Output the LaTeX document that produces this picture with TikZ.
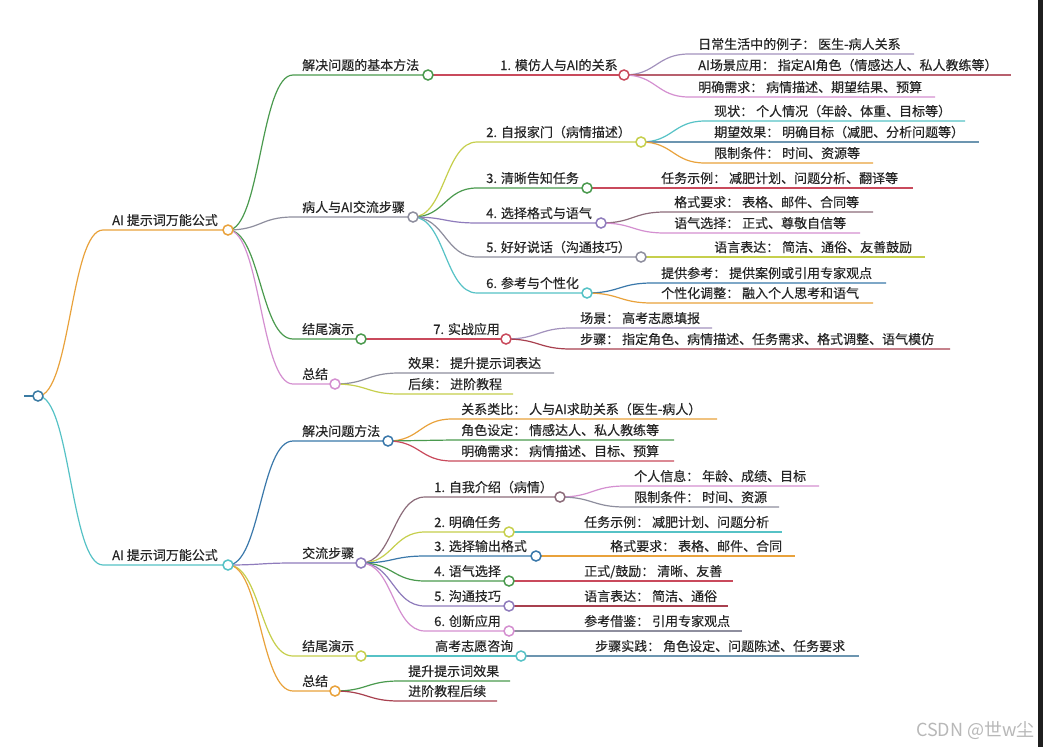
\documentclass[tikz,border=0pt]{standalone}
\usepackage{fontspec}
\setmainfont{Noto Sans CJK SC}[FakeBold=0.3]
\newfontfamily\wmfont{Noto Sans CJK SC}
\usetikzlibrary{calc}
\pgfdeclarelayer{bg}
\pgfsetlayers{bg,main}
\definecolor{rootC}{HTML}{3B7BA3}
\definecolor{orangeC}{HTML}{E9A23B}
\definecolor{tealC}{HTML}{56C2C6}
\definecolor{greenC}{HTML}{4A9A4E}
\definecolor{grayC}{HTML}{8E8E9E}
\definecolor{pinkC}{HTML}{D48FD0}
\definecolor{redC}{HTML}{C94A5C}
\definecolor{ygC}{HTML}{C6CF4C}
\definecolor{purpleC}{HTML}{8F7CBC}
\definecolor{blueC}{HTML}{3A78AA}
\definecolor{bgrayC}{HTML}{6C95B0}
\definecolor{brownC}{HTML}{8C6C7A}
\definecolor{maroonC}{HTML}{A8404F}
\definecolor{mauveC}{HTML}{A392BD}
\definecolor{roseC}{HTML}{B8606E}
\definecolor{textC}{HTML}{262626}
\tikzset{
  mmtext/.style={anchor=base west, inner sep=0pt, text=textC, font=\fontsize{13}{15}\selectfont},
  mmlink/.style={line width=1.2pt},
  mmdot/.style={circle, minimum size=10pt, inner sep=0pt, fill=white, line width=1.5pt},
}
% #1 parent, #2 name, #3 colour, #4 text x, #5 line y, #6 line end x, #7 text
\newcommand{\mmbranch}[7]{%
  \node[mmtext] (#2) at (#4,#5-5) {#7};
  \coordinate (#2-s) at (#4-9,#5);
  \coordinate (#2-e) at (#6,#5);
  \begin{pgfonlayer}{bg}
  \draw[mmlink,#3] let \p1=(#1.center), \p2=(#2-s) in
    (\p1) .. controls ({(\x1+\x2)/2},\y1) and ({(\x1+\x2)/2},\y2) .. (\p2) -- (#2-e);
  \end{pgfonlayer}
}
% #1 branch name, #2 colour
\newcommand{\mmdot}[2]{\node[mmdot,draw=#2] (#1c) at (#1-e) {};}
\begin{document}
\begin{tikzpicture}[x=1pt,y=-1pt]
\useasboundingbox (0,0) rectangle (1043,747);
\begin{pgfonlayer}{bg}
\fill[white] (0,0) rectangle (1043,747);
\end{pgfonlayer}

% root
\node[mmdot,draw=rootC] (root) at (38,396) {};
\coordinate (root-l) at (24,396);
\begin{pgfonlayer}{bg}
\draw[mmlink,rootC] (root-l) -- (root.center);
\end{pgfonlayer}

% ===== top tree =====
\mmbranch{root}{A}{orangeC}{112}{230}{228}{AI 提示词万能公式}\mmdot{A}{orangeC}

\mmbranch{Ac}{A1}{greenC}{302}{75}{428}{解决问题的基本方法}\mmdot{A1}{greenC}
\mmbranch{Ac}{A2}{grayC}{302}{217}{413}{病人与AI交流步骤}\mmdot{A2}{grayC}
\mmbranch{Ac}{A3}{greenC}{302}{339}{361}{结尾演示}\mmdot{A3}{greenC}
\mmbranch{Ac}{A4}{pinkC}{302}{384}{335}{总结}\mmdot{A4}{pinkC}

\mmbranch{A1c}{A11}{redC}{500}{75}{624}{1. 模仿人与AI的关系}\mmdot{A11}{redC}
\mmbranch{A11c}{A111}{mauveC}{698}{54}{914}{日常生活中的例子： 医生-病人关系}
\mmbranch{A11c}{A112}{roseC}{698}{75}{1011}{AI场景应用： 指定AI角色（情感达人、私人教练等）}
\mmbranch{A11c}{A113}{pinkC}{698}{97}{935}{明确需求： 病情描述、期望结果、预算}

\mmbranch{A2c}{A21}{ygC}{486}{142}{641}{2. 自报家门（病情描述）}\mmdot{A21}{ygC}
\mmbranch{A2c}{A22}{greenC}{486}{188}{587}{3. 清晰告知任务}\mmdot{A22}{greenC}
\mmbranch{A2c}{A23}{purpleC}{486}{223}{601}{4. 选择格式与语气}\mmdot{A23}{purpleC}
\mmbranch{A2c}{A24}{grayC}{486}{257}{641}{5. 好好说话（沟通技巧）}\mmdot{A24}{grayC}
\mmbranch{A2c}{A25}{tealC}{486}{293}{587}{6. 参考与个性化}\mmdot{A25}{tealC}

\mmbranch{A21c}{A211}{tealC}{714}{121}{965}{现状： 个人情况（年龄、体重、目标等）}
\mmbranch{A21c}{A212}{bgrayC}{714}{142}{979}{期望效果： 明确目标（减肥、分析问题等）}
\mmbranch{A21c}{A213}{orangeC}{714}{163}{873}{限制条件： 时间、资源等}
\mmbranch{A22c}{A221}{redC}{661}{188}{913}{任务示例： 减肥计划、问题分析、翻译等}
\mmbranch{A23c}{A231}{brownC}{674}{212}{873}{格式要求： 表格、邮件、合同等}
\mmbranch{A23c}{A232}{pinkC}{674}{233}{860}{语气选择： 正式、尊敬自信等}
\mmbranch{A24c}{A241}{ygC}{714}{257}{925}{语言表达： 简洁、通俗、友善鼓励}
\mmbranch{A25c}{A251}{blueC}{661}{283}{886}{提供参考： 提供案例或引用专家观点}
\mmbranch{A25c}{A252}{orangeC}{661}{303}{873}{个性化调整： 融入个人思考和语气}

\mmbranch{A3c}{A31}{redC}{433}{339}{506}{7. 实战应用}\mmdot{A31}{redC}
\mmbranch{A31c}{A311}{mauveC}{580}{328}{712}{场景： 高考志愿填报}
\mmbranch{A31c}{A312}{maroonC}{580}{349}{950}{步骤： 指定角色、病情描述、任务需求、格式调整、语气模仿}

\mmbranch{A4c}{A41}{grayC}{408}{373}{554}{效果： 提升提示词表达}
\mmbranch{A4c}{A42}{ygC}{408}{394}{513}{后续： 进阶教程}

% ===== bottom tree =====
\mmbranch{root}{B}{tealC}{112}{565}{228}{AI 提示词万能公式}\mmdot{B}{tealC}

\mmbranch{Bc}{B1}{blueC}{302}{441}{388}{解决问题方法}\mmdot{B1}{blueC}
\mmbranch{Bc}{B2}{purpleC}{302}{563}{361}{交流步骤}\mmdot{B2}{purpleC}
\mmbranch{Bc}{B3}{ygC}{302}{656}{361}{结尾演示}\mmdot{B3}{ygC}
\mmbranch{Bc}{B4}{orangeC}{302}{691}{335}{总结}\mmdot{B4}{orangeC}

\mmbranch{B1c}{B11}{orangeC}{461}{419}{717}{关系类比： 人与AI求助关系（医生-病人）}
\mmbranch{B1c}{B12}{greenC}{461}{440}{674}{角色设定： 情感达人、私人教练等}
\mmbranch{B1c}{B13}{redC}{461}{461}{674}{明确需求： 病情描述、目标、预算}

\mmbranch{B2c}{B21}{brownC}{434}{497}{560}{1. 自我介绍（病情）}\mmdot{B21}{brownC}
\mmbranch{B2c}{B22}{ygC}{434}{532}{509}{2. 明确任务}\mmdot{B22}{ygC}
\mmbranch{B2c}{B23}{blueC}{434}{556}{536}{3. 选择输出格式}\mmdot{B23}{blueC}
\mmbranch{B2c}{B24}{greenC}{434}{581}{509}{4. 语气选择}\mmdot{B24}{greenC}
\mmbranch{B2c}{B25}{purpleC}{434}{606}{509}{5. 沟通技巧}\mmdot{B25}{purpleC}
\mmbranch{B2c}{B26}{pinkC}{434}{631}{509}{6. 创新应用}\mmdot{B26}{pinkC}

\mmbranch{B21c}{B211}{pinkC}{634}{486}{819}{个人信息： 年龄、成绩、目标}
\mmbranch{B21c}{B212}{grayC}{634}{507}{779}{限制条件： 时间、资源}
\mmbranch{B22c}{B221}{tealC}{584}{532}{782}{任务示例： 减肥计划、问题分析}
\mmbranch{B23c}{B231}{orangeC}{610}{556}{795}{格式要求： 表格、邮件、合同}
\mmbranch{B24c}{B241}{redC}{584}{581}{733}{正式/鼓励： 清晰、友善}
\mmbranch{B25c}{B251}{maroonC}{584}{606}{728}{语言表达： 简洁、通俗}
\mmbranch{B26c}{B261}{grayC}{584}{631}{742}{参考借鉴： 引用专家观点}

\mmbranch{B3c}{B31}{tealC}{435}{656}{521}{高考志愿咨询}\mmdot{B31}{tealC}
\mmbranch{B31c}{B311}{bgrayC}{595}{656}{859}{步骤实践： 角色设定、问题陈述、任务要求}

\mmbranch{B4c}{B41}{greenC}{408}{681}{510}{提升提示词效果}
\mmbranch{B4c}{B42}{maroonC}{408}{701}{497}{进阶教程后续}

% watermark and right edge strip
\node[anchor=base west, inner sep=0pt, text=black!28, font=\wmfont\fontsize{18}{20}\selectfont] (wm) at (916,736) {CSDN @世w尘};
\fill[black!88] (1038,0) rectangle (1043,747);
\end{tikzpicture}
\end{document}
